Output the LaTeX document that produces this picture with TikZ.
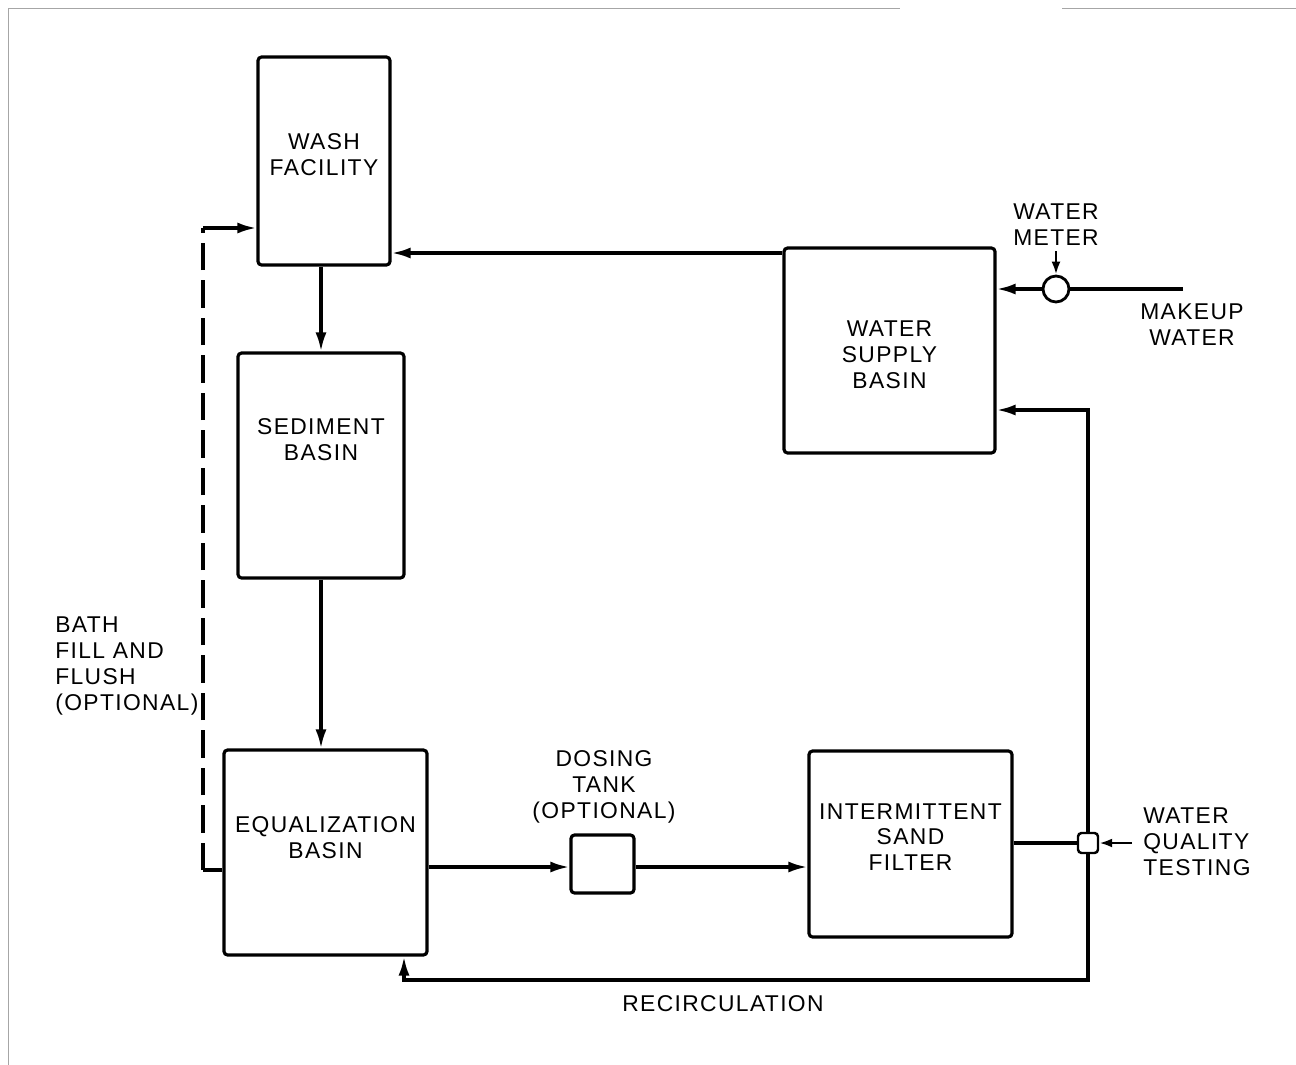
\documentclass[tikz,border=0pt]{standalone}
\usepackage{fontspec}
\newfontfamily\lettering[LetterSpace=6]{Liberation Sans}
\usetikzlibrary{arrows.meta,positioning}

\begin{document}
\begin{tikzpicture}[
        x=0.02cm, y=-0.02cm,
        every node/.style={font=\lettering\fontsize{13}{14.7}\selectfont},
        box/.style={draw, line width=1.8pt, rounded corners=2pt, inner sep=0pt},
        boxtext/.style={align=center, inner sep=0pt},
        note/.style={align=center, inner sep=0pt},
        line/.style={line width=1.8pt},
        arrow/.style={line, -{Latex[length=3.8mm, width=2.2mm]}},
        smallarrow/.style={line width=1.4pt, -{Latex[length=2.6mm, width=1.8mm]}},
        scan/.style={gray!70, line width=0.5pt}
    ]
        \useasboundingbox (0,0) rectangle (1296,1065);
        \draw[scan] (8,1065) -- (8,8) -- (900,8);
        \draw[scan] (1062,8) -- (1296,8);

        \node[box, minimum width=2.64cm, minimum height=4.16cm,
              label={[boxtext, yshift=0.12cm]center:WASH\\FACILITY}] (wash) at (324,161) {};
        \node[box, minimum width=3.32cm, minimum height=4.5cm,
              label={[boxtext, yshift=0.51cm]center:SEDIMENT\\BASIN}] (sed) at (321,465.5) {};
        \node[box, minimum width=4.06cm, minimum height=4.1cm,
              label={[boxtext, yshift=0.29cm]center:EQUALIZATION\\BASIN}] (eq) at (325.5,852.5) {};
        \node[box, minimum width=1.26cm, minimum height=1.16cm] (dt) at (602.5,864) {};
        \node[box, minimum width=4.06cm, minimum height=3.72cm,
              label={[boxtext, yshift=0.14cm]center:INTERMITTENT\\SAND\\FILTER}] (sf) at (910.5,844) {};
        \node[box, minimum width=4.22cm, minimum height=4.1cm,
              label={[boxtext, yshift=-0.09cm]center:WATER\\SUPPLY\\BASIN}] (ws) at (889.5,350.5) {};
        \node[draw, circle, line width=1.6pt, minimum size=0.52cm, inner sep=0pt] (wm) at (1056,289) {};
        \node[box, line width=1.4pt, minimum size=0.4cm] (qt) at (1088,843) {};

        % labels
        \node[note] (wmlbl) at (1056,225) {WATER\\METER};
        \node[note] (mklbl) at (1192,325) {MAKEUP\\WATER};
        \node[note] (dtlbl) at (604,787) {DOSING\\TANK\\(OPTIONAL)};
        \node[note, align=left, anchor=west] (qtlbl) at (1143,842) {WATER\\QUALITY\\TESTING};
        \node[note, align=left, anchor=west] (bflbl) at (55,666) {BATH\\FILL AND\\FLUSH\\(OPTIONAL)};
        \node[note] (rclbl) at (723,1004) {RECIRCULATION};

        \coordinate (mk) at (1183,289);
        \coordinate (qin) at (1132,843);
        \coordinate (bf) at (203,870);
        \coordinate (bt) at (203,228);
        \coordinate (rc) at (404,980);

        \draw[arrow] (sed.north |- wash.south) -- (sed.north);
        \draw[arrow] (sed.south) -- (sed.south |- eq.north);
        \draw[arrow] (eq.east |- 0,867) -- (dt.west |- 0,867);
        \draw[arrow] (dt.east |- 0,867) -- (sf.west |- 0,867);
        \draw[line] (sf.east |- qt) -- (qt.west);
        \draw[smallarrow] (qin) -- (qt.east);
        \draw[arrow] (qt.north) |- (ws.east |- 0,410);
        \draw[arrow] (qt.south) |- (rc) -- (rc |- eq.south);
        \draw[line] (mk) -- (wm.east);
        \draw[arrow] (wm.west) -- (ws.east |- wm);
        \draw[smallarrow] ([yshift=-3pt]wmlbl.south) -- (wm.north);
        \draw[arrow] (ws.west |- 0,253) -- (wash.east |- 0,253);
        \draw[line] (eq.west |- bf) -- (bf);
        \draw[line, dash pattern=on 5.5mm off 2mm] (bf) -- (bt);
        \draw[arrow] (bt) -- (wash.west |- bt);
    \end{tikzpicture}
\end{document}
